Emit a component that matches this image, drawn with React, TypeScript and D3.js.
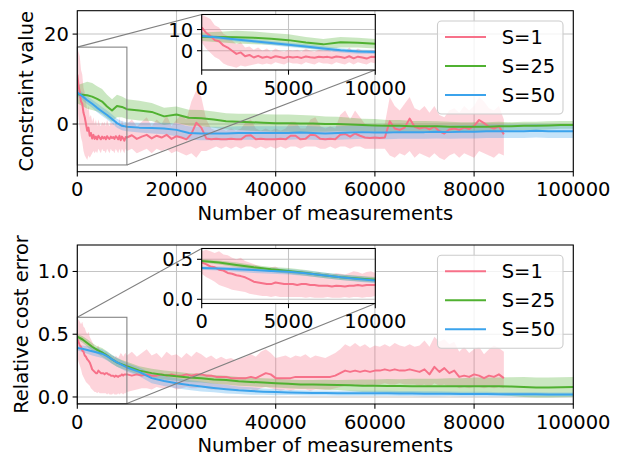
import React from 'react';
import * as d3 from 'd3';

const FONT = '"DejaVu Sans", sans-serif';
const FS = 19.5;
const COLORS = ['#f77189', '#50b131', '#3ba3ec'];
const LABELS = ['S=1', 'S=25', 'S=50'];

// sample grids (S=1 stops at 86000, finer at the start for the inset)
const xS1 = [...d3.range(0, 10000, 250), ...d3.range(10000, 86001, 1000)];
const xSmooth = [...d3.range(0, 10000, 1000), ...d3.range(10000, 100001, 2500)];

const xTicks = [0, 20000, 40000, 60000, 80000, 100000];
const insetXTicks = [0, 5000, 10000];

// ---- Constraint value ----
const conS1Mean = [
  11, 8.5, 7, 5, 4.5, 2.5, 1.5, 0, -1.5, -0.8,
  -2.6, -2, -3.2, -2.4, -3.3, -2.8, -3.4, -2.6, -3, -3.4,
  -2.8, -3.2, -2.9, -3.4, -2.7, -3.1, -3.3, -2.8, -3.1, -2.9,
  -3.3, -2.7, -3, -3.4, -2.6, -3.6, -2.8, -3.2, -3.7, -2.9,
  -3, -2.5, -3.3, -2.8, -2.4, -3.2, -2.6, -3, -2.4, -3.3,
  -2.7, -3, -3.4, -2.2, 0.3, -0.8, -3.2, -3.4, -3.3, -3.4,
  -3.4, -3.3, -3.4, -3.4, -2.6, -2.5, -3.4, -3.3, -3.4, -3.4,
  -3.4, -3.3, -3.4, -2.6, -2.6, -3.4, -3.3, -2.4, -2.5, -3.3,
  -3.4, -3.3, -3.4, -2.4, -2.2, -2.8, -2.1, -2.6, -3, -3.1,
  -3, -3.1, -3, 0.6, -1, -1.3, -0.8, 1.2, -0.6, -1,
  -0.7, -1.2, -0.6, -1.6, -2.1, -1.2, -1, -1.3, -0.8, -1.1,
  -0.4, 0.9, 0.2, -0.6, -1, -0.5, -2.3,
];
const conS1Hi = [
  17, 16, 15, 12, 11, 8, 7, 5, 3, 4,
  1.5, 2, 0.5, 1.5, 0, 1, -0.5, 1, 0, -0.5,
  0.5, 0, 0.5, -0.5, 1, 0, -0.5, 0.5, 0, 0.5,
  -0.5, 1, 0, -0.5, 1.5, -0.5, 1, 0, -1, 0.5,
  0, 1, -0.5, 0.5, 1.5, -0.5, 1, 0, 2, -0.5,
  1, 2, 1, 5, 7.5, 6, 1, -1, -1.5, -1,
  -1.5, -1, -1.5, -1, 0.5, 1, -1, -1.5, -1, -1.5,
  -1, -1.5, -1, 0.5, 0.5, -1, -1, 1, 1.5, -0.5,
  -1, -0.5, -1, 2, 3, 1, 3, 1.5, 0, -0.5,
  0, -0.5, 0, 6, 4, 3, 4.5, 6, 3.5, 3,
  4, 2.5, 4, 2, 1.5, 3, 3.5, 2.5, 4, 3,
  4, 6, 5, 3.5, 3, 4, 1,
];
const conS1Lo = [
  4, 1, -1, -3, -4, -6, -7, -7.5, -8, -7,
  -7.5, -7, -6.5, -6, -6.5, -6, -6.5, -5.5, -6, -6.5,
  -5.5, -6, -6, -6.5, -5.5, -6, -6.5, -5.5, -6, -6,
  -6.5, -5.5, -6, -6.5, -5.5, -6.5, -5.5, -6, -6.5, -5.5,
  -6, -5.5, -6.5, -6, -5.5, -6.5, -5.5, -6, -5.5, -6.5,
  -6, -6.5, -7, -6.5, -7.5, -6, -6, -5.5, -5, -5.5,
  -5, -5.5, -5, -5.5, -5, -5, -5.5, -5, -5.5, -5,
  -5.5, -5, -5.5, -5, -5, -5.5, -5, -5, -5, -5.5,
  -5.5, -5, -5.5, -5, -5, -5.5, -5, -5, -5.5, -5.5,
  -5.5, -5.5, -5.5, -7, -7.5, -6.5, -7, -6, -7.5, -6.5,
  -7, -7.5, -6.5, -7.5, -8, -7, -6.5, -7.5, -6.5, -7,
  -7.5, -6, -6.5, -7, -7.5, -6.5, -7,
];
const conS25Mean = [
  6.6, 6.5, 6.4, 6.1, 5.6, 5.0, 3.9, 3.0, 4.0, 3.8,
  3.3, 3.0, 2.7, 1.7, 2.1, 1.4, 1.3, 1.0, 0.6, 0.5,
  0.4, 0.3, 0.2, 0.2, 0.1, 0.1, 0.0, 0.0, -0.1, -0.2,
  -0.3, -0.4, -0.4, -0.5, -0.5, -0.5, -0.6, -0.6, -0.6, -0.6,
  -0.5, -0.5, -0.4, -0.4, -0.3, -0.2, -0.2,
];
const conS25Half = [
  2.0, 2.5, 3.0, 3.0, 2.8, 2.8, 2.6, 2.5, 2.5, 2.3,
  2.2, 2.2, 2.0, 1.9, 1.8, 1.8, 1.8, 1.8, 1.8, 1.8,
  1.9, 1.9, 1.9, 1.9, 1.9, 1.8, 1.7, 1.6, 1.5, 1.4,
  1.4, 1.3, 1.3, 1.2, 1.2, 1.1, 1.1, 1.0, 1.0, 1.0,
  1.0, 0.9, 0.9, 0.9, 0.9, 0.85, 0.85,
];
const conS50Mean = [
  7.0, 6.2, 5.3, 4.5, 3.6, 2.8, 2.0, 1.1, 0.2, -0.4,
  -0.6, -0.8, -0.9, -1.0, -1.3, -2.0, -2.1, -2.1, -2.1, -2.0,
  -2.0, -2.0, -2.0, -2.0, -1.9, -2.0, -2.1, -2.0, -1.9, -1.8,
  -1.9, -1.9, -1.8, -1.8, -1.8, -1.7, -1.8, -1.7, -1.7, -1.6,
  -1.6, -1.6, -1.6, -1.5, -1.6, -1.6, -1.6,
];
const conS50Half = [
  0.8, 0.8, 0.9, 0.9, 1.0, 1.0, 1.0, 1.0, 1.0, 1.0,
  1.0, 1.1, 1.2, 1.3, 1.4, 1.5, 1.5, 1.5, 1.5, 1.5,
  1.5, 1.5, 1.5, 1.5, 1.5, 1.5, 1.5, 1.5, 1.5, 1.5,
  1.5, 1.5, 1.5, 1.5, 1.5, 1.5, 1.5, 1.5, 1.5, 1.5,
  1.5, 1.5, 1.5, 1.5, 1.5, 1.5, 1.5,
];

// ---- Relative cost error ----
const errS1Mean = [
  0.46, 0.44, 0.41, 0.40, 0.37, 0.36, 0.33, 0.32, 0.30, 0.29,
  0.275, 0.25, 0.22, 0.21, 0.20, 0.19, 0.19, 0.21, 0.20, 0.19,
  0.19, 0.19, 0.18, 0.19, 0.19, 0.18, 0.18, 0.17, 0.17, 0.17,
  0.16, 0.17, 0.165, 0.16, 0.17, 0.17, 0.18, 0.17, 0.18, 0.18,
  0.18, 0.17, 0.18, 0.17, 0.18, 0.17, 0.17, 0.18, 0.17, 0.18,
  0.17, 0.17, 0.18, 0.17, 0.18, 0.18, 0.17, 0.17, 0.16, 0.16,
  0.16, 0.15, 0.15, 0.15, 0.15, 0.16, 0.15, 0.17, 0.19, 0.18,
  0.15, 0.15, 0.15, 0.15, 0.16, 0.16, 0.16, 0.16, 0.16, 0.16,
  0.16, 0.16, 0.17, 0.19, 0.21, 0.20, 0.21, 0.20, 0.21, 0.20,
  0.21, 0.21, 0.22, 0.21, 0.22, 0.21, 0.21, 0.22, 0.21, 0.20,
  0.22, 0.18, 0.24, 0.20, 0.23, 0.19, 0.21, 0.16, 0.17, 0.16,
  0.18, 0.17, 0.15, 0.17, 0.16, 0.18, 0.15,
];
const errS1Hi = [
  0.60, 0.62, 0.60, 0.58, 0.60, 0.56, 0.55, 0.52, 0.50, 0.52,
  0.48, 0.46, 0.44, 0.42, 0.40, 0.38, 0.40, 0.41, 0.38, 0.36,
  0.37, 0.35, 0.34, 0.36, 0.35, 0.34, 0.33, 0.34, 0.32, 0.33,
  0.31, 0.33, 0.32, 0.31, 0.33, 0.35, 0.34, 0.32, 0.34, 0.35,
  0.33, 0.36, 0.32, 0.35, 0.38, 0.33, 0.35, 0.31, 0.36, 0.33,
  0.34, 0.31, 0.35, 0.32, 0.36, 0.34, 0.31, 0.33, 0.30, 0.32,
  0.30, 0.31, 0.29, 0.31, 0.32, 0.34, 0.32, 0.36, 0.38, 0.35,
  0.31, 0.32, 0.33, 0.31, 0.33, 0.32, 0.34, 0.31, 0.33, 0.32,
  0.31, 0.33, 0.35, 0.38, 0.42, 0.40, 0.43, 0.40, 0.42, 0.39,
  0.41, 0.40, 0.42, 0.40, 0.43, 0.41, 0.40, 0.42, 0.40, 0.41,
  0.45, 0.40, 0.48, 0.44, 0.46, 0.42, 0.44, 0.36, 0.40, 0.35,
  0.38, 0.40, 0.34, 0.38, 0.41, 0.39, 0.36,
];
const errS1Lo = [
  0.32, 0.28, 0.25, 0.22, 0.18, 0.16, 0.14, 0.12, 0.11, 0.10,
  0.09, 0.07, 0.06, 0.05, 0.04, 0.04, 0.03, 0.04, 0.03, 0.03,
  0.03, 0.03, 0.03, 0.03, 0.02, 0.03, 0.02, 0.02, 0.02, 0.03,
  0.02, 0.02, 0.02, 0.03, 0.02, 0.03, 0.03, 0.02, 0.03, 0.03,
  0.04, 0.05, 0.06, 0.07, 0.07, 0.06, 0.08, 0.07, 0.07, 0.08,
  0.06, 0.07, 0.08, 0.07, 0.07, 0.08, 0.07, 0.06, 0.06, 0.07,
  0.06, 0.06, 0.05, 0.06, 0.06, 0.06, 0.05, 0.07, 0.08, 0.07,
  0.06, 0.05, 0.06, 0.05, 0.06, 0.06, 0.06, 0.05, 0.06, 0.06,
  0.06, 0.06, 0.07, 0.08, 0.09, 0.09, 0.10, 0.09, 0.10, 0.09,
  0.10, 0.10, 0.11, 0.10, 0.10, 0.11, 0.10, 0.10, 0.10, 0.09,
  0.10, 0.08, 0.11, 0.09, 0.10, 0.08, 0.09, 0.07, 0.08, 0.07,
  0.08, 0.08, 0.07, 0.08, 0.07, 0.08, 0.07,
];
const errS25Mean = [
  0.48, 0.46, 0.43, 0.40, 0.375, 0.355, 0.33, 0.30, 0.275, 0.26,
  0.245, 0.21, 0.19, 0.175, 0.165, 0.155, 0.15, 0.14, 0.135, 0.125,
  0.12, 0.115, 0.11, 0.105, 0.10, 0.10, 0.097, 0.095, 0.093, 0.09,
  0.09, 0.088, 0.087, 0.086, 0.085, 0.085, 0.085, 0.085, 0.085, 0.085,
  0.085, 0.083, 0.08, 0.076, 0.075, 0.078, 0.08,
];
const errS25Half = [
  0.02, 0.025, 0.03, 0.03, 0.03, 0.035, 0.035, 0.035, 0.035, 0.035,
  0.035, 0.035, 0.035, 0.035, 0.035, 0.035, 0.035, 0.035, 0.035, 0.035,
  0.035, 0.035, 0.035, 0.035, 0.035, 0.035, 0.04, 0.04, 0.045, 0.05,
  0.05, 0.055, 0.055, 0.06, 0.06, 0.06, 0.065, 0.065, 0.07, 0.07,
  0.07, 0.075, 0.08, 0.08, 0.08, 0.08, 0.08,
];
const errS50Mean = [
  0.39, 0.385, 0.375, 0.365, 0.355, 0.345, 0.325, 0.30, 0.275, 0.255,
  0.235, 0.20, 0.15, 0.127, 0.11, 0.095, 0.083, 0.072, 0.062, 0.053,
  0.047, 0.042, 0.039, 0.035, 0.033, 0.032, 0.031, 0.03, 0.03, 0.03,
  0.03, 0.029, 0.028, 0.027, 0.026, 0.025, 0.025, 0.024, 0.024, 0.023,
  0.022, 0.022, 0.021, 0.021, 0.02, 0.02, 0.02,
];
const errS50Half = [
  0.02, 0.025, 0.03, 0.035, 0.035, 0.035, 0.035, 0.035, 0.035, 0.035,
  0.035, 0.035, 0.04, 0.04, 0.04, 0.04, 0.04, 0.035, 0.035, 0.03,
  0.03, 0.025, 0.025, 0.02, 0.02, 0.02, 0.02, 0.02, 0.02, 0.02,
  0.02, 0.02, 0.02, 0.02, 0.02, 0.02, 0.018, 0.018, 0.018, 0.018,
  0.016, 0.016, 0.016, 0.016, 0.015, 0.015, 0.015,
];

type Pt = { x: number; m: number; lo: number; hi: number };

function band(xs: number[], mean: number[], lo: number[], hi: number[]): Pt[] {
  const n = Math.min(xs.length, mean.length, lo.length, hi.length);
  return d3.range(n).map(i => ({ x: xs[i], m: mean[i], lo: lo[i], hi: hi[i] }));
}
function spread(xs: number[], mean: number[], half: number[]): Pt[] {
  return band(xs, mean, mean.map((m, i) => m - half[i]), mean.map((m, i) => m + half[i]));
}

const constraintSeries = [
  band(xS1, conS1Mean, conS1Lo, conS1Hi),
  spread(xSmooth, conS25Mean, conS25Half),
  spread(xSmooth, conS50Mean, conS50Half),
];
const errorSeries = [
  band(xS1, errS1Mean, errS1Lo, errS1Hi),
  spread(xSmooth, errS25Mean, errS25Half),
  spread(xSmooth, errS50Mean, errS50Half),
];

const L = 77.3, R = 573.3, IL = 201.7, IR = 375.3;
const TICK = 4.7;

type PanelProps = {
  id: string;
  top: number;
  bottom: number;
  yDomain: number[];
  yTicks: number[];
  yFmt: (v: number) => string;
  insetTop: number;
  insetBottom: number;
  insetDomain: number[];
  insetYTicks: number[];
  ylabel: string;
  ylabelX: number;
  series: Pt[][];
};

function Data({ series, x, y, clip }: { series: Pt[][]; x: any; y: any; clip: string }) {
  const area = d3.area<Pt>().x(d => x(d.x)).y0(d => y(d.lo)).y1(d => y(d.hi));
  const line = d3.line<Pt>().x(d => x(d.x)).y(d => y(d.m));
  return (
    <g clipPath={`url(#${clip})`}>
      {series.map((s, k) => (
        <path key={'b' + k} d={area(s) || ''} fill={COLORS[k]} fillOpacity={0.3} stroke="none" />
      ))}
      {series.map((s, k) => (
        <path key={'l' + k} d={line(s) || ''} fill="none" stroke={COLORS[k]} strokeWidth={2} strokeLinejoin="round" />
      ))}
    </g>
  );
}

function Frame({ x, y, xt, yt, yFmt, left, right, top, bottom }: any) {
  return (
    <g>
      <rect x={left} y={top} width={right - left} height={bottom - top} fill="none" stroke="#000" strokeWidth={1.07} />
      {xt.map((t: number) => (
        <g key={'x' + t}>
          <line x1={x(t)} x2={x(t)} y1={bottom} y2={bottom + TICK} stroke="#000" strokeWidth={1.07} />
          <text x={x(t)} y={bottom + 24.5} textAnchor="middle" fontSize={FS} fontFamily={FONT}>{t}</text>
        </g>
      ))}
      {yt.map((t: number) => (
        <g key={'y' + t}>
          <line x1={left - TICK} x2={left} y1={y(t)} y2={y(t)} stroke="#000" strokeWidth={1.07} />
          <text x={left - 8.5} y={y(t) + 7} textAnchor="end" fontSize={FS} fontFamily={FONT}>{yFmt(t)}</text>
        </g>
      ))}
    </g>
  );
}

function Grid({ x, y, xt, yt, left, right, top, bottom }: any) {
  return (
    <g stroke="#c4c4c4" strokeWidth={1.07}>
      {xt.map((t: number) => <line key={'gx' + t} x1={x(t)} x2={x(t)} y1={top} y2={bottom} />)}
      {yt.map((t: number) => <line key={'gy' + t} x1={left} x2={right} y1={y(t)} y2={y(t)} />)}
    </g>
  );
}

function Panel(p: PanelProps) {
  const x = d3.scaleLinear().domain([0, 100000]).range([L, R]);
  const y = d3.scaleLinear().domain(p.yDomain).range([p.bottom, p.top]);
  const xi = d3.scaleLinear().domain([0, 10000]).range([IL, IR]);
  const yi = d3.scaleLinear().domain(p.insetDomain).range([p.insetBottom, p.insetTop]);
  const mainClip = p.id + '-main';
  const insetClip = p.id + '-inset';
  const legTop = p.top + 10.3;
  return (
    <g>
      <defs>
        <clipPath id={mainClip}><rect x={L} y={p.top} width={R - L} height={p.bottom - p.top} /></clipPath>
        <clipPath id={insetClip}><rect x={IL} y={p.insetTop} width={IR - IL} height={p.insetBottom - p.insetTop} /></clipPath>
      </defs>
      <Grid x={x} y={y} xt={xTicks} yt={p.yTicks} left={L} right={R} top={p.top} bottom={p.bottom} />
      <Data series={p.series} x={x} y={y} clip={mainClip} />
      {/* zoom marker */}
      <g stroke="#808080" strokeWidth={1.07} fill="none">
        <rect x={x(0)} y={y(p.insetDomain[1])} width={x(10000) - x(0)} height={y(p.insetDomain[0]) - y(p.insetDomain[1])} />
        <line x1={x(0)} y1={y(p.insetDomain[1])} x2={IL} y2={p.insetTop} />
        <line x1={x(10000)} y1={y(p.insetDomain[0])} x2={IR} y2={p.insetBottom} />
      </g>
      <Frame x={x} y={y} xt={xTicks} yt={p.yTicks} yFmt={p.yFmt} left={L} right={R} top={p.top} bottom={p.bottom} />
      <text transform={`translate(${p.ylabelX},${(p.top + p.bottom) / 2}) rotate(-90)`} textAnchor="middle" fontSize={FS} fontFamily={FONT}>{p.ylabel}</text>
      <text x={(L + R) / 2} y={p.bottom + 48} textAnchor="middle" fontSize={FS} fontFamily={FONT}>Number of measurements</text>
      {/* legend */}
      <g>
        <rect x={437.5} y={legTop} width={125.5} height={93} rx={4} fill="#fff" fillOpacity={0.8} stroke="#cccccc" strokeWidth={1.07} />
        {LABELS.map((lab, k) => {
          const cy = legTop + 16 + k * 29;
          return (
            <g key={lab}>
              <line x1={445} x2={486} y1={cy} y2={cy} stroke={COLORS[k]} strokeWidth={2} />
              <text x={501.7} y={cy + 7} fontSize={FS} fontFamily={FONT}>{lab}</text>
            </g>
          );
        })}
      </g>
      {/* inset */}
      <rect x={IL} y={p.insetTop} width={IR - IL} height={p.insetBottom - p.insetTop} fill="#fff" />
      <Grid x={xi} y={yi} xt={insetXTicks} yt={p.insetYTicks} left={IL} right={IR} top={p.insetTop} bottom={p.insetBottom} />
      <Data series={p.series} x={xi} y={yi} clip={insetClip} />
      <Frame x={xi} y={yi} xt={insetXTicks} yt={p.insetYTicks} yFmt={p.yFmt} left={IL} right={IR} top={p.insetTop} bottom={p.insetBottom} />
    </g>
  );
}

export default function App() {
  const fmt0 = (v: number) => d3.format('d')(v);
  const fmt1 = (v: number) => d3.format('.1f')(v);
  return (
    <svg width={623} height={457} style={{ position: 'absolute', left: 0, top: 0, background: '#fff' }}>
      <Panel
        id="con"
        top={10.7}
        bottom={171.7}
        yDomain={[-10.6, 25.2]}
        yTicks={[0, 20]}
        yFmt={fmt0}
        insetTop={14.5}
        insetBottom={70}
        insetDomain={[-9.1, 17.1]}
        insetYTicks={[0, 10]}
        ylabel="Constraint value"
        ylabelX={32.5}
        series={constraintSeries}
      />
      <Panel
        id="err"
        top={245}
        bottom={404}
        yDomain={[-0.056, 1.211]}
        yTicks={[0, 0.5, 1]}
        yFmt={fmt1}
        insetTop={248.5}
        insetBottom={303.5}
        insetDomain={[-0.0525, 0.635]}
        insetYTicks={[0, 0.5]}
        ylabel="Relative cost error"
        ylabelX={27.5}
        series={errorSeries}
      />
    </svg>
  );
}
